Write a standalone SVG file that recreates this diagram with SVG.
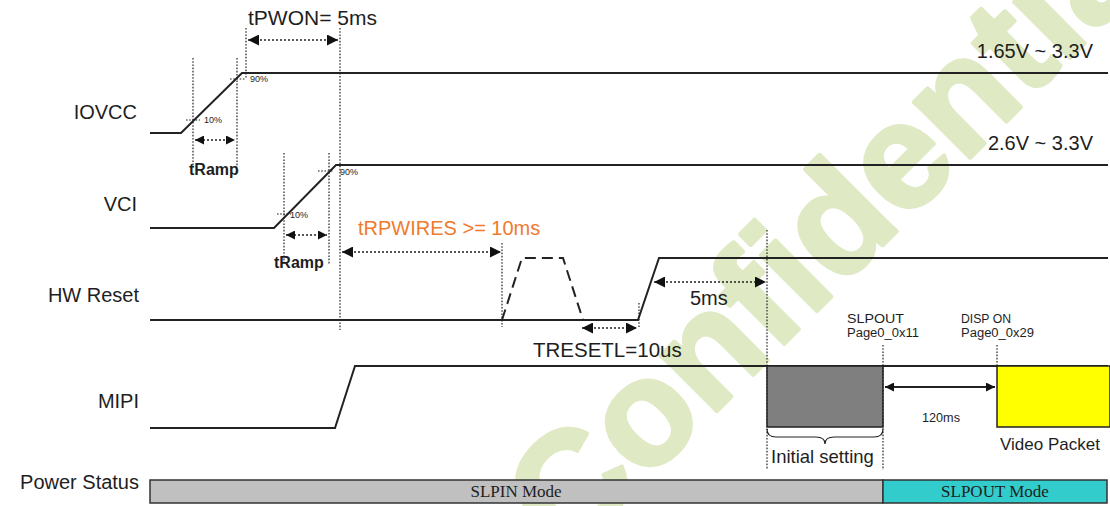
<svg xmlns="http://www.w3.org/2000/svg" width="1110" height="506" viewBox="0 0 1110 506">
<style>
.wm{font-family:"Liberation Sans",Arial,sans-serif;font-weight:bold;fill:#dfe9c4;stroke:#dfe9c4;stroke-width:4;stroke-linejoin:round}
.lbl{font-family:"Liberation Sans",Arial,sans-serif;fill:#1e1e1e}
.sig{font-size:20px;text-anchor:end}
.wave{fill:none;stroke:#222;stroke-width:2;stroke-linejoin:miter}
.dash{fill:none;stroke:#222;stroke-width:2;stroke-dasharray:11 6}
.vdot{fill:none;stroke:#222;stroke-width:1.2;stroke-dasharray:1.6 1.6}
.adot{fill:none;stroke:#222;stroke-width:1.6;stroke-dasharray:2 2}
.asol{fill:none;stroke:#222;stroke-width:1.8}
.pct{font-size:9px}
.small{font-size:12.5px}
.serif{font-family:"Liberation Serif","Times New Roman",serif;fill:#1e1e1e;font-size:17px;text-anchor:middle}
</style>
<defs>
<marker id="ah" viewBox="0 0 10 10" refX="10" refY="5" markerWidth="15" markerHeight="11" markerUnits="userSpaceOnUse" orient="auto-start-reverse"><path d="M0,0 L10,5 L0,10 z" fill="#111"/></marker>
<marker id="ahs" viewBox="0 0 10 10" refX="10" refY="5" markerWidth="12" markerHeight="9" markerUnits="userSpaceOnUse" orient="auto-start-reverse"><path d="M0,0 L10,5 L0,10 z" fill="#111"/></marker>
</defs>
<rect width="1110" height="506" fill="#fff"/>
<g id="watermark">
<text class="wm" font-size="150" transform="translate(568,560) rotate(-45)">Confidential</text>
</g>
<g id="labels" class="lbl">
<text class="lbl sig" x="137" y="119">IOVCC</text>
<text class="lbl sig" x="137" y="211">VCI</text>
<text class="lbl sig" x="139" y="302">HW Reset</text>
<text class="lbl sig" x="139" y="408">MIPI</text>
<text class="lbl sig" x="139" y="489">Power Status</text>
</g>
<g id="iovcc">
<path class="wave" d="M150,133 L181,133 L242,73 L1108,73"/>
<text class="lbl" x="1093" y="58" font-size="20" text-anchor="end">1.65V ~ 3.3V</text>
<path class="vdot" d="M193,58 V167 M237,58 V167"/>
<path class="vdot" d="M186,120 H200 M230,79 H245"/>
<text class="lbl pct" x="204" y="123">10%</text>
<text class="lbl pct" x="250" y="82">90%</text>
<text class="lbl" x="189" y="175" font-size="16" font-weight="bold">tRamp</text>
</g>
<g id="vci">
<path class="wave" d="M150,228 L274,228 L336,165 L1108,165"/>
<text class="lbl" x="1093" y="150" font-size="20" text-anchor="end">2.6V ~ 3.3V</text>
<path class="vdot" d="M284,153 V264 M329,153 V264"/>
<path class="vdot" d="M277,214 H291 M318,171 H333"/>
<text class="lbl pct" x="290" y="218">10%</text>
<text class="lbl pct" x="340" y="175">90%</text>
<text class="lbl" x="274" y="268" font-size="16" font-weight="bold">tRamp</text>
</g>
<g id="tpwon">
<path class="vdot" d="M246,28 V78 M340,28 V330"/>
<text class="lbl" x="248" y="25" font-size="21">tPWON= 5ms</text>
</g>
<g id="hwreset">
<path class="wave" d="M150,320 L638,320 L659,258 L1108,258"/>
<path class="dash" d="M502,320 L522,258 L563,258 L583,320"/>
<path class="vdot" d="M502,243 V327 M639,303 V328"/>
<text class="lbl" x="358" y="235" font-size="20" style="fill:#f07a2e">tRPWIRES &gt;= 10ms</text>
<text class="lbl" x="533" y="357" font-size="20.5">TRESETL=10us</text>
<text class="lbl" x="690" y="305" font-size="20">5ms</text>
<path class="vdot" d="M767,230 V470"/>
</g>
<g id="mipi">
<path class="wave" d="M150,428 L335,428 L355,366 L1108,366"/>
<rect x="767" y="366" width="116" height="61" fill="#7f7f7f" stroke="#222" stroke-width="1.5"/>
<rect x="997" y="366" width="113" height="61" fill="#ffff00" stroke="#222" stroke-width="1.5"/>
<path d="M767,429 Q767,437 776,437 L816,437 Q825,437 825,444 Q825,437 834,437 L874,437 Q883,437 883,429" fill="none" stroke="#222" stroke-width="1.2"/>
<path class="vdot" d="M883,345 V470 M997,345 V366"/>
<text class="lbl" x="771" y="463" font-size="18.5">Initial setting</text>
<text class="lbl" x="1000" y="450" font-size="17">Video Packet</text>
<text class="lbl small" x="847" y="323" textLength="57" lengthAdjust="spacingAndGlyphs">SLPOUT</text>
<text class="lbl small" x="847" y="337" textLength="72" lengthAdjust="spacingAndGlyphs">Page0_0x11</text>
<text class="lbl small" x="961" y="323" textLength="50" lengthAdjust="spacingAndGlyphs">DISP ON</text>
<text class="lbl small" x="961" y="337" textLength="73" lengthAdjust="spacingAndGlyphs">Page0_0x29</text>
<text class="lbl small" x="922" y="422" textLength="38" lengthAdjust="spacingAndGlyphs">120ms</text>
</g>
<g id="power">
<rect x="150" y="480" width="733" height="23" fill="#c0c0c0" stroke="#333" stroke-width="1.5"/>
<rect x="883" y="480" width="224" height="23" fill="#33cccc" stroke="#333" stroke-width="1.5"/>
<text class="serif" x="516" y="497">SLPIN Mode</text>
<text class="serif" x="995" y="497">SLPOUT Mode</text>
</g>
<g id="connectors">
<line class="adot" x1="248" y1="40" x2="338" y2="40" marker-start="url(#ah)" marker-end="url(#ah)"/>
<line class="adot" x1="195" y1="140" x2="235" y2="140" marker-start="url(#ahs)" marker-end="url(#ahs)"/>
<line class="adot" x1="286" y1="235" x2="327" y2="235" marker-start="url(#ahs)" marker-end="url(#ahs)"/>
<line class="adot" x1="342" y1="252" x2="501" y2="252" marker-start="url(#ah)" marker-end="url(#ah)"/>
<line class="adot" x1="582" y1="328" x2="637" y2="328" marker-start="url(#ah)" marker-end="url(#ah)"/>
<line class="adot" x1="654" y1="282" x2="766" y2="282" marker-start="url(#ah)" marker-end="url(#ah)"/>
<line class="asol" x1="885" y1="387" x2="995" y2="387" marker-start="url(#ahs)" marker-end="url(#ahs)"/>
</g>
</svg>
